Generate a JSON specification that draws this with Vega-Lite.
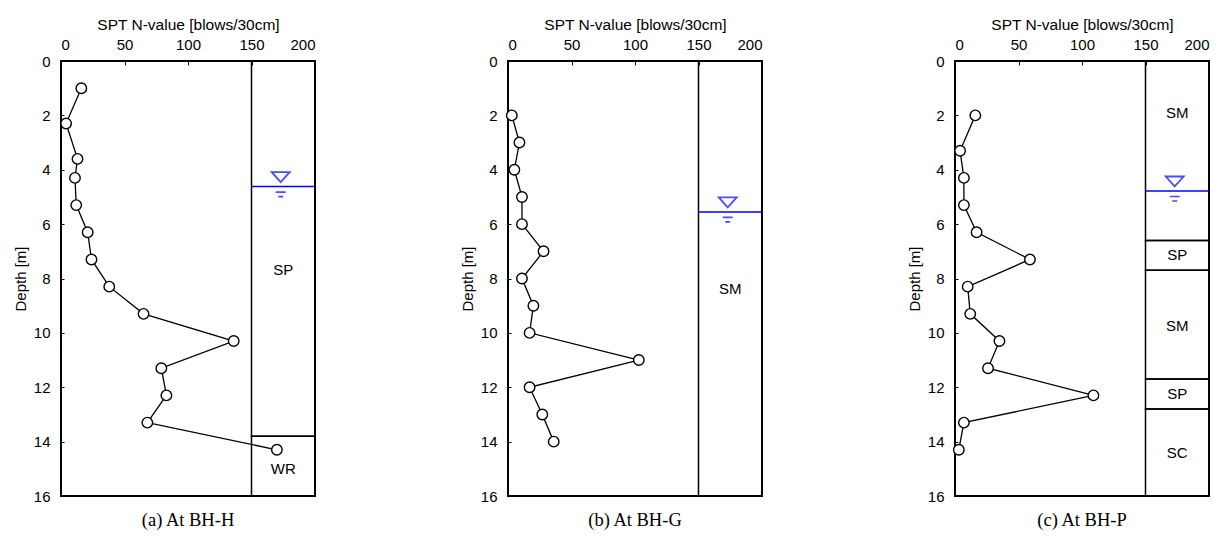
{
  "$schema": "https://vega.github.io/schema/vega-lite/v6.json",
  "background": "white",
  "padding": {"left": 12, "top": 16, "right": 0, "bottom": 0},
  "config": {
    "view": {"stroke": "black", "strokeWidth": 2},
    "font": "Liberation Sans",
    "axis": {"grid": false, "domain": false, "labelFont": "Liberation Sans", "titleFont": "Liberation Sans", "labelColor": "black", "titleColor": "black", "tickColor": "black", "titleFontWeight": "normal"}
  },
  "data": {"values": [
    {"kind": "spt", "panel": "(a) At BH-H", "depth": 1.0, "n": 16},
    {"kind": "spt", "panel": "(a) At BH-H", "depth": 2.3, "n": 4},
    {"kind": "spt", "panel": "(a) At BH-H", "depth": 3.6, "n": 13},
    {"kind": "spt", "panel": "(a) At BH-H", "depth": 4.3, "n": 11},
    {"kind": "spt", "panel": "(a) At BH-H", "depth": 5.3, "n": 12},
    {"kind": "spt", "panel": "(a) At BH-H", "depth": 6.3, "n": 21},
    {"kind": "spt", "panel": "(a) At BH-H", "depth": 7.3, "n": 24},
    {"kind": "spt", "panel": "(a) At BH-H", "depth": 8.3, "n": 38},
    {"kind": "spt", "panel": "(a) At BH-H", "depth": 9.3, "n": 65},
    {"kind": "spt", "panel": "(a) At BH-H", "depth": 10.3, "n": 136},
    {"kind": "spt", "panel": "(a) At BH-H", "depth": 11.3, "n": 79},
    {"kind": "spt", "panel": "(a) At BH-H", "depth": 12.3, "n": 83},
    {"kind": "spt", "panel": "(a) At BH-H", "depth": 13.3, "n": 68},
    {"kind": "spt", "panel": "(a) At BH-H", "depth": 14.3, "n": 170},
    {"kind": "spt", "panel": "(b) At BH-G", "depth": 2, "n": 3},
    {"kind": "spt", "panel": "(b) At BH-G", "depth": 3, "n": 9},
    {"kind": "spt", "panel": "(b) At BH-G", "depth": 4, "n": 5},
    {"kind": "spt", "panel": "(b) At BH-G", "depth": 5, "n": 11},
    {"kind": "spt", "panel": "(b) At BH-G", "depth": 6, "n": 11},
    {"kind": "spt", "panel": "(b) At BH-G", "depth": 7, "n": 28},
    {"kind": "spt", "panel": "(b) At BH-G", "depth": 8, "n": 11},
    {"kind": "spt", "panel": "(b) At BH-G", "depth": 9, "n": 20},
    {"kind": "spt", "panel": "(b) At BH-G", "depth": 10, "n": 17},
    {"kind": "spt", "panel": "(b) At BH-G", "depth": 11, "n": 103},
    {"kind": "spt", "panel": "(b) At BH-G", "depth": 12, "n": 17},
    {"kind": "spt", "panel": "(b) At BH-G", "depth": 13, "n": 27},
    {"kind": "spt", "panel": "(b) At BH-G", "depth": 14, "n": 36},
    {"kind": "spt", "panel": "(c) At BH-P", "depth": 2.0, "n": 16},
    {"kind": "spt", "panel": "(c) At BH-P", "depth": 3.3, "n": 4},
    {"kind": "spt", "panel": "(c) At BH-P", "depth": 4.3, "n": 7},
    {"kind": "spt", "panel": "(c) At BH-P", "depth": 5.3, "n": 7},
    {"kind": "spt", "panel": "(c) At BH-P", "depth": 6.3, "n": 17},
    {"kind": "spt", "panel": "(c) At BH-P", "depth": 7.3, "n": 59},
    {"kind": "spt", "panel": "(c) At BH-P", "depth": 8.3, "n": 10},
    {"kind": "spt", "panel": "(c) At BH-P", "depth": 9.3, "n": 12},
    {"kind": "spt", "panel": "(c) At BH-P", "depth": 10.3, "n": 35},
    {"kind": "spt", "panel": "(c) At BH-P", "depth": 11.3, "n": 26},
    {"kind": "spt", "panel": "(c) At BH-P", "depth": 12.3, "n": 109},
    {"kind": "spt", "panel": "(c) At BH-P", "depth": 13.3, "n": 7},
    {"kind": "spt", "panel": "(c) At BH-P", "depth": 14.3, "n": 3},
    {"kind": "layer", "panel": "(a) At BH-H", "top": 0, "bottom": 13.8, "soil": "SP", "mid": 7.7},
    {"kind": "layer", "panel": "(a) At BH-H", "top": 13.8, "bottom": 16, "soil": "WR", "mid": 15.0},
    {"kind": "layer", "panel": "(b) At BH-G", "top": 0, "bottom": 16, "soil": "SM", "mid": 8.4},
    {"kind": "layer", "panel": "(c) At BH-P", "top": 0, "bottom": 6.6, "soil": "SM", "mid": 1.9},
    {"kind": "layer", "panel": "(c) At BH-P", "top": 6.6, "bottom": 7.7, "soil": "SP", "mid": 7.15},
    {"kind": "layer", "panel": "(c) At BH-P", "top": 7.7, "bottom": 11.7, "soil": "SM", "mid": 9.75},
    {"kind": "layer", "panel": "(c) At BH-P", "top": 11.7, "bottom": 12.8, "soil": "SP", "mid": 12.25},
    {"kind": "layer", "panel": "(c) At BH-P", "top": 12.8, "bottom": 16, "soil": "SC", "mid": 14.4},
    {"kind": "water", "panel": "(a) At BH-H", "depth": 4.62},
    {"kind": "water", "panel": "(b) At BH-G", "depth": 5.55},
    {"kind": "water", "panel": "(c) At BH-P", "depth": 4.78}
  ]},
  "facet": {
    "column": {
      "field": "panel",
      "type": "nominal",
      "sort": ["(a) At BH-H", "(b) At BH-G", "(c) At BH-P"],
      "header": {"title": null, "labelOrient": "bottom", "labelFont": "Liberation Serif", "labelFontSize": 18.5, "labelColor": "black", "labelPadding": 6}
    }
  },
  "spacing": 142,
  "resolve": {"axis": {"x": "independent", "y": "independent"}},
  "spec": {
    "width": 254,
    "height": 435,
    "encoding": {
      "x": {"type": "quantitative", "scale": {"domain": [0, 200], "nice": false}, "axis": {"orient": "top", "title": "SPT N-value [blows/30cm]", "values": [0, 50, 100, 150, 200], "tickSize": -4, "labelPadding": 13, "labelFontSize": 15, "titleFontSize": 15.5, "titlePadding": 5}},
      "y": {"type": "quantitative", "scale": {"domain": [0, 16], "reverse": true, "nice": false}, "axis": {"title": "Depth [m]", "values": [0, 2, 4, 6, 8, 10, 12, 14, 16], "tickSize": -3, "labelPadding": 14, "labelFontSize": 15, "titleFontSize": 15, "titlePadding": 5}}
    },
    "layer": [
      {
        "transform": [{"filter": "datum.kind === 'layer'"}],
        "mark": {"type": "rect", "fill": null, "fillOpacity": 0, "stroke": "black", "strokeWidth": 1.5},
        "encoding": {
          "x": {"datum": 150, "type": "quantitative"},
          "x2": {"datum": 200},
          "y": {"field": "top", "type": "quantitative"},
          "y2": {"field": "bottom"}
        }
      },
      {
        "transform": [{"filter": "datum.kind === 'layer'"}],
        "mark": {"type": "text", "font": "Liberation Sans", "fontSize": 15, "color": "black", "baseline": "middle", "align": "center"},
        "encoding": {
          "x": {"datum": 175, "type": "quantitative"},
          "y": {"field": "mid", "type": "quantitative"},
          "text": {"field": "soil"}
        }
      },
      {
        "transform": [{"filter": "datum.kind === 'water'"}],
        "mark": {"type": "rule", "color": "#0000ff", "strokeWidth": 1.5},
        "encoding": {
          "x": {"datum": 150, "type": "quantitative"},
          "x2": {"datum": 200},
          "y": {"field": "depth", "type": "quantitative"}
        }
      },
      {
        "transform": [{"filter": "datum.kind === 'water'"}],
        "mark": {"type": "point", "shape": "M-1,-0.55L1,-0.55L0,0.55Z", "size": 324, "filled": false, "stroke": "#0000ff", "strokeWidth": 1.8, "yOffset": -9.5},
        "encoding": {
          "x": {"datum": 173, "type": "quantitative"},
          "y": {"field": "depth", "type": "quantitative"}
        }
      },
      {
        "transform": [{"filter": "datum.kind === 'water'"}],
        "mark": {"type": "point", "shape": "M-0.5,0.55L0.5,0.55M-0.25,1L0.25,1", "size": 400, "filled": false, "stroke": "#0000ff", "strokeWidth": 1.6},
        "encoding": {
          "x": {"datum": 173, "type": "quantitative"},
          "y": {"field": "depth", "type": "quantitative"}
        }
      },
      {
        "transform": [{"filter": "datum.kind === 'spt'"}],
        "mark": {"type": "line", "color": "black", "strokeWidth": 1.3},
        "encoding": {
          "x": {"field": "n", "type": "quantitative"},
          "y": {"field": "depth", "type": "quantitative"},
          "order": {"field": "depth", "type": "quantitative"}
        }
      },
      {
        "transform": [{"filter": "datum.kind === 'spt'"}],
        "mark": {"type": "point", "shape": "circle", "size": 110, "filled": true, "fill": "white", "stroke": "black", "strokeWidth": 1.4, "opacity": 1},
        "encoding": {
          "x": {"field": "n", "type": "quantitative"},
          "y": {"field": "depth", "type": "quantitative"}
        }
      }
    ]
  }
}
